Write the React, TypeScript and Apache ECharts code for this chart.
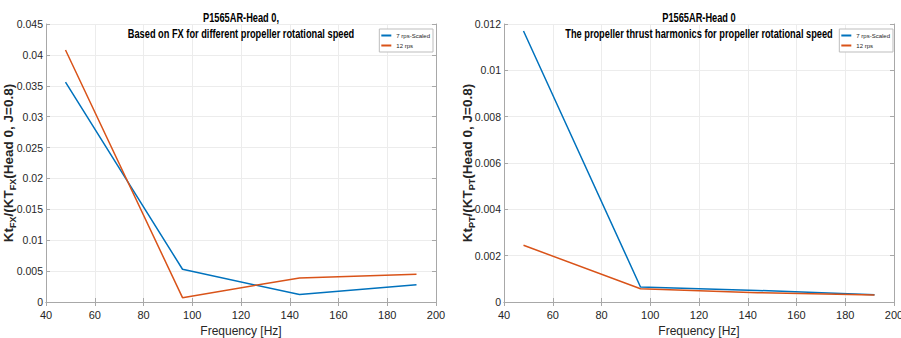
import React, { useEffect, useRef } from "react";
import * as echarts from "echarts";

const freqs = [48, 96, 144, 192];
const fxScaled7 = [0.0356, 0.0053, 0.0012, 0.0028];
const fx12 = [0.0408, 0.0007, 0.0039, 0.0045];
const ptScaled7 = [0.0117, 0.00065, 0.0005, 0.00031];
const pt12 = [0.00245, 0.00057, 0.0004, 0.0003];
const seriesNames = ["7 rps-Scaled", "12 rps"];
const colors = ["#0072BD", "#D95319"];
const xTicks = { min: 40, max: 200, interval: 20 };
const yLeft = { min: 0, max: 0.045, interval: 0.005 };
const yRight = { min: 0, max: 0.012, interval: 0.002 };
const leftTitle = ["P1565AR-Head 0,", "Based on FX for different propeller rotational speed"];
const rightTitle = ["P1565AR-Head 0", "The propeller thrust harmonics for propeller rotational speed"];
const leftYName = "Kt{s|FX}/(KT{s|FX}(Head 0, J=0.8)";
const rightYName = "Kt{s|PT}/(KT{s|PT}(Head 0, J=0.8)";
const xName = "Frequency [Hz]";

const FONT = "'Liberation Sans', Arial, sans-serif";

export default function App() {
  const ref = useRef<HTMLDivElement>(null);
  useEffect(() => {
    if (!ref.current) return;
    const chart = echarts.init(ref.current, undefined, { renderer: "svg" });
    const pair = (ys: number[]) => freqs.map((f, i) => [f, ys[i]]);
    const axisLine = { show: true, lineStyle: { color: "#a8a8a8", width: 1 } };
    const grids = [
      { left: 46, right: 465, top: 24, bottom: 36, outerBoundsMode: "none", containLabel: false },
      { left: 504, right: 7, top: 24, bottom: 36, outerBoundsMode: "none", containLabel: false },
    ];
    const mkX = (gi: number, pos: "bottom" | "top") => ({
      type: "value",
      gridIndex: gi,
      position: pos,
      ...xTicks,
      axisLine,
      axisTick: { show: true, inside: true, length: 4, lineStyle: { color: "#a8a8a8" } },
      axisLabel: pos === "bottom"
        ? { show: true, fontFamily: FONT, fontSize: 11, color: "#262626", margin: 7 }
        : { show: false },
      splitLine: { show: pos === "bottom", lineStyle: { color: "#ececec" } },
      name: pos === "bottom" ? xName : "",
      nameLocation: "middle",
      nameGap: 23,
      nameMoveOverlap: false,
      nameTextStyle: { fontFamily: FONT, fontSize: 12, color: "#262626" },
    });
    const mkY = (gi: number, pos: "left" | "right", rng: any, nm: string, gap: number) => ({
      type: "value",
      gridIndex: gi,
      position: pos,
      ...rng,
      axisLine,
      axisTick: { show: true, inside: true, length: 4, lineStyle: { color: "#a8a8a8" } },
      axisLabel: pos === "left"
        ? { show: true, fontFamily: FONT, fontSize: 10.5, color: "#262626", margin: 3 }
        : { show: false },
      splitLine: { show: pos === "left", lineStyle: { color: "#ececec" } },
      name: pos === "left" ? nm : "",
      nameLocation: "middle",
      nameRotate: 90,
      nameGap: gap,
      nameMoveOverlap: false,
      nameTextStyle: {
        fontFamily: FONT,
        fontWeight: "bold",
        fontSize: 13.5,
        color: "#262626",
        rich: {
          m: { fontFamily: FONT, fontWeight: "bold", fontSize: 13.5, color: "#262626", lineHeight: 18, verticalAlign: "top" },
          s: { fontFamily: FONT, fontWeight: "bold", fontSize: 9, color: "#262626", lineHeight: 18, verticalAlign: "bottom" },
        },
      },
    });
    const lineSeries = (name: string, ys: number[], gi: number, c: string) => ({
      type: "line",
      name,
      xAxisIndex: gi * 2,
      yAxisIndex: gi * 2,
      data: pair(ys),
      showSymbol: false,
      symbol: "none",
      lineStyle: { color: c, width: 1.5 },
      itemStyle: { color: c },
    });
    const legendCommon = {
      orient: "vertical",
      top: 29,
      itemWidth: 10,
      itemHeight: 2,
      itemGap: 3,
      icon: "rect",
      padding: [3, 3, 3, 2],
      backgroundColor: "#ffffff",
      borderColor: "#bdbdbd",
      borderWidth: 1,
      borderRadius: 0,
      textStyle: { fontFamily: FONT, fontSize: 6, color: "#262626", lineHeight: 7 },
      data: seriesNames,
    };
    const titleText = (cx: number, lines: string[]) =>
      lines.map((t, i) => ({
        type: "text",
        x: cx,
        y: 17 + i * 16,
        scaleX: 0.74,
        z: 100,
        style: {
          text: t,
          fontFamily: FONT,
          fontSize: 12.5,
          fontWeight: "bold",
          fill: "#000",
          align: "center",
          verticalAlign: "middle",
        },
      }));
    chart.setOption({
      animation: false,
      backgroundColor: "#ffffff",
      graphic: [...titleText(241, leftTitle), ...titleText(699, rightTitle)],
      legend: [
        { ...legendCommon, right: 468 },
        { ...legendCommon, right: 8 },
      ],
      grid: grids,
      xAxis: [mkX(0, "bottom"), mkX(0, "top"), mkX(1, "bottom"), mkX(1, "top")],
      yAxis: [
        mkY(0, "left", yLeft, leftYName, 29),
        mkY(0, "right", yLeft, "", 0),
        mkY(1, "left", yRight, rightYName, 28),
        mkY(1, "right", yRight, "", 0),
      ],
      series: [
        lineSeries(seriesNames[0], fxScaled7, 0, colors[0]),
        lineSeries(seriesNames[1], fx12, 0, colors[1]),
        lineSeries(seriesNames[0], ptScaled7, 1, colors[0]),
        lineSeries(seriesNames[1], pt12, 1, colors[1]),
      ],
    });
    return () => chart.dispose();
  }, []);
  return <div ref={ref} style={{ width: 901, height: 338, position: "absolute", left: 0, top: 0 }} />;
}
